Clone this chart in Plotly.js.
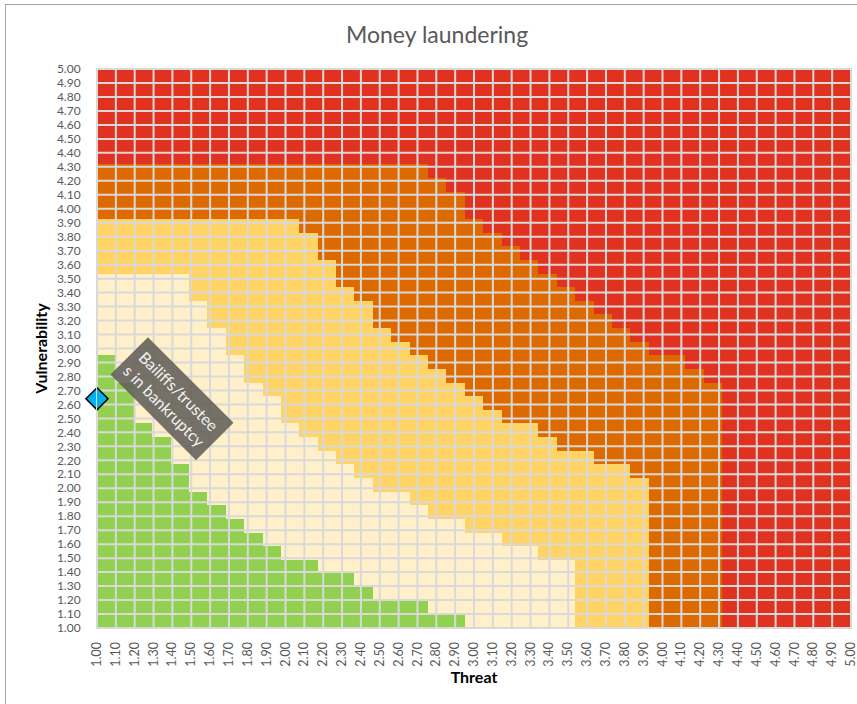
<!DOCTYPE html>
<html>
<head>
<meta charset="utf-8">
<script src="https://cdn.plot.ly/plotly-3.0.1.min.js"></script>
<style>
html,body{margin:0;padding:0;background:#ffffff;overflow:hidden;}
#chart{width:857px;height:704px;}
#frame{position:absolute;left:5px;top:4px;width:870px;height:720px;border:1px solid #a6a6a6;pointer-events:none;}
</style>
</head>
<body>
<div id="chart"></div>
<div id="frame"></div>
<script>
// Axis ticks (Threat on x, Vulnerability on y)
const threatTicks = [1.00,1.10,1.20,1.30,1.40,1.50,1.60,1.70,1.80,1.90,2.00,2.10,2.20,2.30,2.40,2.50,2.60,2.70,2.80,2.90,3.00,3.10,3.20,3.30,3.40,3.50,3.60,3.70,3.80,3.90,4.00,4.10,4.20,4.30,4.40,4.50,4.60,4.70,4.80,4.90,5.00];
const threatLabels = ['1.00','1.10','1.20','1.30','1.40','1.50','1.60','1.70','1.80','1.90','2.00','2.10','2.20','2.30','2.40','2.50','2.60','2.70','2.80','2.90','3.00','3.10','3.20','3.30','3.40','3.50','3.60','3.70','3.80','3.90','4.00','4.10','4.20','4.30','4.40','4.50','4.60','4.70','4.80','4.90','5.00'];
const vulnTicks = [1.00,1.10,1.20,1.30,1.40,1.50,1.60,1.70,1.80,1.90,2.00,2.10,2.20,2.30,2.40,2.50,2.60,2.70,2.80,2.90,3.00,3.10,3.20,3.30,3.40,3.50,3.60,3.70,3.80,3.90,4.00,4.10,4.20,4.30,4.40,4.50,4.60,4.70,4.80,4.90,5.00];
const vulnLabels = ['1.00','1.10','1.20','1.30','1.40','1.50','1.60','1.70','1.80','1.90','2.00','2.10','2.20','2.30','2.40','2.50','2.60','2.70','2.80','2.90','3.00','3.10','3.20','3.30','3.40','3.50','3.60','3.70','3.80','3.90','4.00','4.10','4.20','4.30','4.40','4.50','4.60','4.70','4.80','4.90','5.00'];

// Risk band colours (green, light, yellow, orange, red)
const levelColors = ['#92D050','#FFF0C9','#FFD364','#DD6A00','#E1321F'];

// Cumulative height (number of cells from the bottom) of each band, per column of the risk map
const greenTop  = [20,18,15,14,12,10,9,8,7,6,5,5,4,4,3,2,2,2,1,1,0,0,0,0,0,0,0,0,0,0,0,0,0,0,0,0,0,0,0,0,0];
const lightTop  = [26,26,26,26,26,24,22,20,18,17,15,14,13,12,11,10,10,9,8,8,7,7,6,6,5,5,0,0,0,0,0,0,0,0,0,0,0,0,0,0,0];
const yellowTop = [30,30,30,30,30,30,30,30,30,30,30,29,27,25,24,22,21,20,19,18,17,16,15,15,14,13,13,12,12,11,0,0,0,0,0,0,0,0,0,0,0];
const orangeTop = [34,34,34,34,34,34,34,34,34,34,34,34,34,34,34,34,34,34,33,32,30,29,28,27,26,25,24,23,22,21,20,20,19,18,0,0,0,0,0,0,0];
const nRows = 41;

// Plotted sector
const pointThreat = [1.00];
const pointVuln = [2.64];
const pointLabel = 'Bailiffs/trustee<br>s in bankruptcy';
const labelThreat = 1.40;

// Build the level matrix
const z = [];
for (let j = 0; j < nRows; j++) {
  const row = [];
  for (let i = 0; i < greenTop.length; i++) {
    let lv = 4;
    if (j < greenTop[i]) lv = 0;
    else if (j < lightTop[i]) lv = 1;
    else if (j < yellowTop[i]) lv = 2;
    else if (j < orangeTop[i]) lv = 3;
    row.push(lv);
  }
  z.push(row);
}
const cs = [];
levelColors.forEach((c, k) => { cs.push([k / levelColors.length, c]); cs.push([(k + 1) / levelColors.length, c]); });

// Grid lines from tick values
const gx = [], gy = [];
const xMin = threatTicks[0], xMax = threatTicks[threatTicks.length - 1];
const yMin = vulnTicks[0], yMax = vulnTicks[vulnTicks.length - 1];
threatTicks.forEach(v => { gx.push(v, v, null); gy.push(yMin, yMax, null); });
vulnTicks.forEach(v => { gx.push(xMin, xMax, null); gy.push(v, v, null); });

const font = 'Lato, "Open Sans", sans-serif';

const data = [
  {
    type: 'heatmap', z: z, xaxis: 'x', yaxis: 'y',
    colorscale: cs, zmin: -0.5, zmax: levelColors.length - 0.5,
    showscale: false, hoverinfo: 'skip'
  },
  {
    type: 'scatter', mode: 'lines', x: gx, y: gy, xaxis: 'x2', yaxis: 'y2',
    line: {color: '#D9D9D9', width: 2}, hoverinfo: 'skip', showlegend: false
  },
  {
    type: 'scatter', mode: 'markers', x: pointThreat, y: pointVuln, xaxis: 'x2', yaxis: 'y2',
    marker: {symbol: 'diamond', size: 17, color: '#00B0F0', line: {color: '#000000', width: 1.5}},
    cliponaxis: false, showlegend: false
  }
];

const layout = {
  width: 857, height: 704,
  margin: {l: 97, r: 6, t: 69, b: 76},
  paper_bgcolor: '#ffffff', plot_bgcolor: '#ffffff',
  showlegend: false,
  title: {text: 'Money laundering', x: 0.51, xanchor: 'center', y: 0.95, yanchor: 'middle',
          font: {family: font, size: 23, color: '#595959'}},
  xaxis: {visible: false, range: [-0.5, greenTop.length - 0.5], fixedrange: true},
  yaxis: {visible: false, range: [-0.5, nRows - 0.5], fixedrange: true},
  xaxis2: {
    overlaying: 'x', anchor: 'y2', side: 'bottom', range: [xMin, xMax],
    tickmode: 'array', tickvals: threatTicks, ticktext: threatLabels, tickangle: -90,
    tickfont: {family: font, size: 12.5, color: '#595959'}, ticks: '', ticklabelstandoff: 8,
    ticklabeloverflow: 'allow',
    showgrid: false, zeroline: false, showline: true, linecolor: '#D9D9D9', linewidth: 1, mirror: true,
    title: {text: 'Threat', font: {family: font, size: 16, color: '#000000', weight: 'bold'}, standoff: 1}
  },
  yaxis2: {
    overlaying: 'y', anchor: 'x2', side: 'left', range: [yMin, yMax],
    tickmode: 'array', tickvals: vulnTicks, ticktext: vulnLabels,
    tickfont: {family: font, size: 12, color: '#595959'}, ticks: '', ticklabelstandoff: 13,
    ticklabeloverflow: 'allow',
    showgrid: false, zeroline: false, showline: true, linecolor: '#D9D9D9', linewidth: 1, mirror: true,
    title: {text: 'Vulnerability', font: {family: font, size: 16, color: '#000000', weight: 'bold'}, standoff: 5}
  },
  annotations: [{
    xref: 'x2', yref: 'y2', x: labelThreat, y: pointVuln[0], text: pointLabel, showarrow: false,
    textangle: 45, bgcolor: 'rgba(98,94,88,0.88)', borderpad: 6,
    font: {family: font, size: 16, color: '#F2F2F2'}
  }]
};

Plotly.newPlot('chart', data, layout, {staticPlot: true, displayModeBar: false});
</script>
</body>
</html>
